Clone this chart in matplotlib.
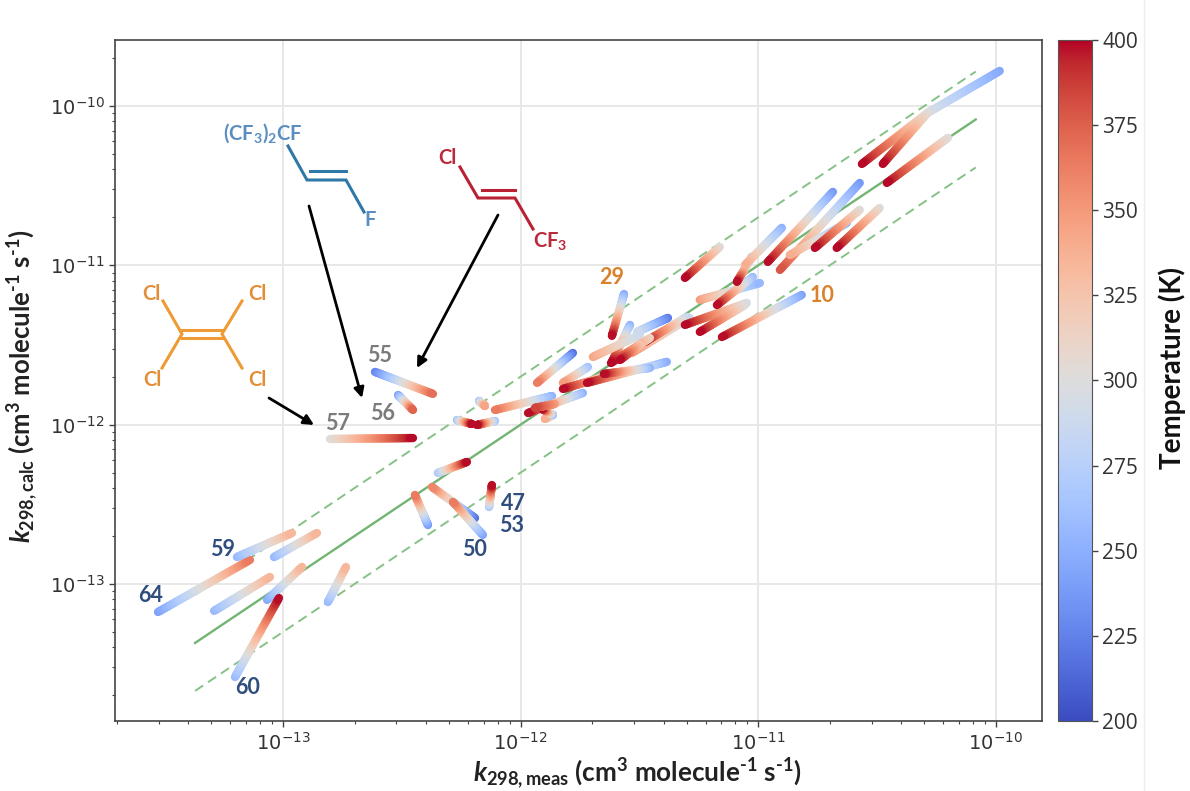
import numpy as np
import matplotlib
matplotlib.use("Agg")
import matplotlib.pyplot as plt
from matplotlib.collections import LineCollection
from matplotlib.colors import Normalize
from matplotlib.cm import ScalarMappable
from matplotlib.lines import Line2D
from matplotlib.ticker import LogLocator, NullFormatter

W, H = 1190, 791

plt.rcParams['font.family'] = ['DejaVu Sans']
plt.rcParams['mathtext.fontset'] = 'custom'
plt.rcParams['mathtext.rm'] = 'Lato:bold'
plt.rcParams['mathtext.it'] = 'Lato:italic:bold'
plt.rcParams['mathtext.bf'] = 'Lato:bold'
plt.rcParams['mathtext.default'] = 'rm'

# log10 k at both ends of every compound, and temperature there
log_meas_a = [-13.526, -13.194, -13.038, -13.290, -13.067, -13.202, -12.811, -12.802, -12.613, -12.516,
              -12.348, -12.390, -12.192, -12.159, -12.133, -12.268, -12.108, -12.175, -11.868, -11.738,
              -11.864, -11.864, -11.856, -11.780, -11.717, -11.595, -11.385, -11.456, -11.540, -11.565,
              -11.696, -11.532, -11.380, -11.300, -11.048, -11.056, -11.246, -11.023, -11.027, -10.901,
              -10.817, -11.162, -10.686, -10.573, -10.627, -10.573, -10.489, -9.984, -10.287, -10.287, -10.202,
              -11.456, -11.498]
log_meas_b = [-13.139, -12.962, -12.857, -13.055, -12.920, -13.017, -12.735, -12.453, -12.369, -12.453,
              -12.226, -12.445, -12.373, -12.285, -12.121, -12.205, -12.184, -12.150, -12.108, -11.969,
              -11.898, -11.910, -11.940, -11.931, -11.822, -11.822, -11.721, -11.650, -11.616, -11.616,
              -11.498, -11.288, -11.511, -11.477, -11.309, -11.246, -10.993, -11.174, -11.090, -11.056,
              -11.153, -11.309, -10.960, -10.909, -10.867, -10.762, -10.670, -10.287, -10.564, -10.476, -10.459,
              -11.620, -11.582]
log_calc_a = [-13.176, -12.831, -12.831, -13.169, -13.100, -13.584, -13.113, -12.090, -11.669, -11.814,
              -12.303, -12.630, -12.586, -12.692, -12.517, -11.971, -11.977, -11.851, -11.820, -11.801,
              -11.939, -11.939, -11.870, -11.550, -11.638, -11.676, -11.606, -11.644, -11.374, -11.180,
              -11.575, -11.550, -11.330, -11.324, -11.236, -11.249, -11.217, -11.073, -10.947, -10.765,
              -11.186, -10.885, -10.539, -10.483, -10.734, -10.652, -10.640, -9.780, -10.043, -10.043, -10.200,
              -11.456, -11.500]
log_calc_b = [-12.849, -12.680, -12.680, -12.956, -12.893, -13.088, -12.893, -12.084, -11.807, -11.908,
              -12.234, -12.441, -12.391, -12.485, -12.379, -11.996, -12.002, -11.883, -11.908, -11.927,
              -11.964, -11.902, -11.895, -11.738, -11.738, -11.776, -11.738, -11.682, -11.606, -11.443,
              -11.437, -11.330, -11.418, -11.481, -11.374, -11.418, -11.111, -11.249, -11.104, -10.998,
              -11.450, -11.079, -10.979, -11.029, -10.935, -10.891, -10.891, -10.043, -10.364, -10.364, -10.483,
              -11.613, -11.594]
temp_a = [240, 255, 255, 255, 245, 255, 255, 300, 225, 240,
          265, 235, 215, 240, 265, 260, 260, 265, 250, 250,
          260, 260, 345, 215, 260, 275, 245, 250, 250, 245,
          345, 355, 222, 280, 295, 295, 350, 255, 250, 250,
          240, 300, 235, 235, 250, 300, 300, 245, 300, 300, 300,
          310, 320]
temp_b = [365, 335, 335, 335, 335, 400, 335, 400, 370, 375,
          400, 365, 360, 365, 400, 400, 400, 345, 365, 400,
          340, 400, 385, 365, 350, 400, 400, 400, 400, 400,
          290, 290, 290, 400, 400, 400, 255, 400, 400, 340,
          400, 400, 400, 380, 340, 400, 400, 295, 400, 400, 400,
          400, 400]

ref_range = [-13.37, -10.085]
ref_factor = 2

temp_ticks = [200, 225, 250, 275, 300, 325, 350, 375, 400]
k_ticks = [1e-13, 1e-12, 1e-11, 1e-10]

# text labels: (text, x pixel, y pixel, colour)
grey = '#7b7b7b'
navy = '#2f4d7d'
orange = '#d9822b'
compound_labels = [
    ('55', 380, 356, grey), ('56', 383, 414, grey), ('57', 338, 423, grey),
    ('29', 612, 278, orange), ('10', 822, 296, orange),
    ('59', 223, 549, navy), ('64', 151, 596, navy), ('60', 248, 688, navy),
    ('50', 474, 549, navy), ('47', 513, 503, navy), ('53', 512, 525, navy),
]


def fx(x, y):
    return x / W, 1 - y / H


def add_gradient(ax, xa, ya, xb, yb, ta, tb, norm):
    # split the line up only so the colour can change along it
    t = np.linspace(ta, tb, 40)
    x = 10 ** np.linspace(xa, xb, 40)
    y = 10 ** np.linspace(ya, yb, 40)
    pts = np.column_stack([x, y]).reshape(-1, 1, 2)
    segs = np.concatenate([pts[:-1], pts[1:]], axis=1)
    lc = LineCollection(segs, cmap='coolwarm', norm=norm, linewidths=6.0, capstyle='round', zorder=3)
    lc.set_array((t[:-1] + t[1:]) / 2)
    ax.add_collection(lc)


def add_bond(fig, pts, color, lw=2.2):
    xs = [p[0] / W for p in pts]
    ys = [1 - p[1] / H for p in pts]
    fig.add_artist(Line2D(xs, ys, color=color, lw=lw, transform=fig.transFigure, solid_joinstyle='miter', zorder=5))


def add_label(fig, s, x, y, color, size=14.5, weight='bold'):
    fig.text(x / W, 1 - y / H, s, color=color, fontsize=size, family='Lato', weight=weight,
             ha='center', va='center', zorder=6)


fig = plt.figure(figsize=(W / 100, H / 100), dpi=100)
ax = fig.add_axes([115 / W, 1 - 721 / H, (1042 - 115) / W, (721 - 40) / H])
ax.set_xscale('log')
ax.set_yscale('log')
ax.set_xlim(10 ** -13.707, 10 ** -9.806)
ax.set_ylim(10 ** -13.86, 10 ** -9.586)
ax.set_xticks(k_ticks)
ax.set_yticks(k_ticks)
for axis in [ax.xaxis, ax.yaxis]:
    axis.set_minor_locator(LogLocator(base=10, subs=np.arange(2, 10) * 0.1, numticks=20))
    axis.set_minor_formatter(NullFormatter())
ax.grid(True, which='major', color='#e8e8e8', lw=1.4, zorder=0)
ax.set_axisbelow(True)
ax.tick_params(axis='both', which='major', labelsize=14, length=4, width=1, color='#444444', labelcolor='#333333')
ax.tick_params(axis='both', which='minor', length=2.2, width=0.8, color='#444444')
for s in ax.spines.values():
    s.set_linewidth(1.2)
    s.set_color('#444444')

ref = 10 ** np.array(ref_range)
ax.plot(ref, ref, color='#72b572', lw=1.7, zorder=2)
ax.plot(ref, ref * ref_factor, color='#86c186', lw=1.4, ls=(0, (5, 3)), zorder=2)
ax.plot(ref, ref / ref_factor, color='#86c186', lw=1.4, ls=(0, (5, 3)), zorder=2)

norm = Normalize(200, 400)
for i in range(len(log_meas_a)):
    add_gradient(ax, log_meas_a[i], log_calc_a[i], log_meas_b[i], log_calc_b[i], temp_a[i], temp_b[i], norm)

units = r"(cm$^{3}$ molecule$^{\text{-}1}$ s$^{\text{-}1}$)"
fig.text(637 / W, 1 - 774 / H, r"$\mathit{k}_{298,\mathrm{meas}}$ " + units,
         family='Lato', weight='bold', fontsize=18.8, ha='center', va='center', color='#222222')
fig.text(23 / W, 1 - 386 / H, r"$\mathit{k}_{298,\mathrm{calc}}$ " + units,
         family='Lato', weight='bold', fontsize=18.5, ha='center', va='center', rotation=90, color='#222222')

cax = fig.add_axes([1058 / W, 1 - 721 / H, 34 / W, 681 / H])
cb = fig.colorbar(ScalarMappable(norm=norm, cmap='coolwarm'), cax=cax)
cb.set_ticks(temp_ticks)
cb.ax.tick_params(labelsize=15, length=4, width=1, color='#444444', labelcolor='#333333')
for lab in cb.ax.get_yticklabels():
    lab.set_family('Open Sans')
cb.outline.set_linewidth(0.8)
cb.outline.set_edgecolor('#555555')
fig.text(1172 / W, 1 - 368 / H, 'Temperature (K)', family='Lato', weight='bold', fontsize=20,
         rotation=90, ha='center', va='center', color='#111111')

# drawn molecules
blue_mol = '#2f78a8'
red_mol = '#b82233'
orange_mol = '#ee9a35'
add_bond(fig, [(288, 146), (307, 180), (346, 180), (364, 212)], blue_mol)
add_bond(fig, [(310, 171), (346, 171)], blue_mol)
add_bond(fig, [(460, 167), (478, 198), (515, 198), (533, 229)], red_mol)
add_bond(fig, [(482, 190), (515, 190)], red_mol)
add_bond(fig, [(163, 301), (182, 334), (162, 368)], orange_mol)
add_bond(fig, [(242, 301), (222, 334), (242, 368)], orange_mol)
add_bond(fig, [(182, 330), (222, 330)], orange_mol)
add_bond(fig, [(182, 338), (222, 338)], orange_mol)

mol_blue_text = '#5a8dc0'
mol_red_text = '#b92a3a'
mol_orange_text = '#e38e35'
add_label(fig, r"(CF$_{3}$)$_{2}$CF", 263, 133, mol_blue_text)
add_label(fig, 'F', 370, 220, mol_blue_text)
add_label(fig, 'Cl', 447, 158, mol_red_text)
add_label(fig, r"CF$_{3}$", 550, 242, mol_red_text)
add_label(fig, 'Cl', 151, 294, mol_orange_text)
add_label(fig, 'Cl', 257, 294, mol_orange_text)
add_label(fig, 'Cl', 152, 380, mol_orange_text)
add_label(fig, 'Cl', 257, 380, mol_orange_text)

for s, x, y, c in compound_labels:
    add_label(fig, s, x, y, c, size=15.5, weight='bold')

for start, end in [((309, 206), (362, 398)), ((498, 215), (417, 368)), ((269, 398), (314, 425))]:
    ax.annotate('', xy=fx(*end), xytext=fx(*start), xycoords='figure fraction', textcoords='figure fraction',
                arrowprops=dict(arrowstyle='-|>', color='black', lw=2, mutation_scale=15, shrinkA=0, shrinkB=0), zorder=6)

fig.add_artist(Line2D([1144 / W, 1144 / W], [0, 1], color='#ececec', lw=1, transform=fig.transFigure))

fig.savefig('out.png', dpi=100)
